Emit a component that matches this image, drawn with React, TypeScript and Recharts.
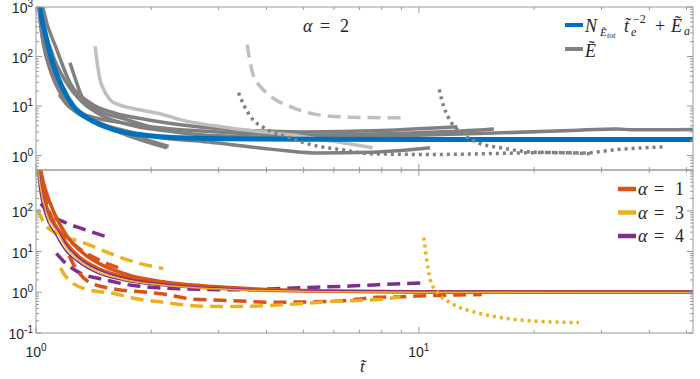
import React from 'react';
import { LineChart, Line, XAxis, YAxis, Legend } from 'recharts';

type P = [number, number];

const AX = '#9a9a9a';
const TXT = '#262626';
const SANS = "'Liberation Sans', Arial, Helvetica, sans-serif";
const SERIF = "'Liberation Serif', 'Times New Roman', serif";

const BLUE = '#0072BD';
const GRAY = '#808080';
const LGRAY = '#bfbfbf';
const ORANGE = '#D95319';
const YELLOW = '#EDB120';
const PURPLE = '#7E2F8E';

const X_DOMAIN: [number, number] = [1, 52];
const TOP_Y_DOMAIN: [number, number] = [0.51, 1000];
const BOT_Y_DOMAIN: [number, number] = [0.1, 1000];

const xTicks = [1, 2, 3, 4, 5, 6, 7, 8, 9, 10, 20, 30, 40, 50];
const xMajor: Record<number, string> = { 1: '0', 10: '1' };

const yTicksTop = [0.6, 0.7, 0.8, 0.9, 1, 2, 3, 4, 5, 6, 7, 8, 9, 10, 20, 30, 40, 50, 60, 70, 80, 90, 100, 200, 300, 400, 500, 600, 700, 800, 900, 1000];
const yMajorTop: Record<number, string> = { 1: '0', 10: '1', 100: '2', 1000: '3' };

const yTicksBot = [0.1, 0.2, 0.3, 0.4, 0.5, 0.6, 0.7, 0.8, 0.9, 1, 2, 3, 4, 5, 6, 7, 8, 9, 10, 20, 30, 40, 50, 60, 70, 80, 90, 100, 200, 300, 400, 500, 600, 700, 800, 900, 1000];
const yMajorBot: Record<number, string> = { 0.1: '-1', 1: '0', 10: '1', 100: '2' };

// ---- top panel (alpha = 2) ----
const blueModel: P[] = [[1.018, 2000], [1.024, 1050], [1.056, 300], [1.099, 87], [1.168, 25], [1.252, 9.9], [1.385, 5.3], [1.594, 3.35], [1.95, 2.53], [2.38, 2.28], [3.22, 2.17], [5, 2.12], [10, 2.1], [52, 2.1]];
const graySolidA: P[] = [[1.01, 2000], [1.018, 1000], [1.045, 188], [1.088, 54.6], [1.156, 18.5], [1.252, 8.5], [1.44, 4.58], [1.76, 2.45], [2.2, 1.43]];
const graySolidB: P[] = [[1.012, 2000], [1.02, 900], [1.05, 190], [1.09, 62], [1.16, 21], [1.25, 10], [1.42, 5.2], [1.7, 2.9], [2.0, 1.95], [2.22, 1.52]];
const graySolidC: P[] = [[1.227, 75], [1.26, 40], [1.317, 15.8], [1.44, 8.5], [1.7, 5.5], [2.13, 3.25]];
const graySolidD: P[] = [[1.15, 17], [1.2, 11], [1.26, 8], [1.4, 6], [1.7, 4.5], [2.2, 3.5], [3.22, 2.9], [5, 2.6], [8, 2.75], [12, 3.05], [15.7, 3.45]];
const graySolidE: P[] = [[1.025, 2000], [1.045, 890], [1.133, 138], [1.227, 29.4], [1.385, 11.6], [1.594, 7.3], [1.95, 5.3], [2.38, 4.2], [3.22, 3.35], [5, 3.0], [8, 3.2], [12.6, 3.8]];
const graySolidF: P[] = [[1.02, 2000], [1.04, 600], [1.1, 120], [1.2, 30], [1.32, 12], [1.5, 6.2], [1.8, 4], [2.3, 3.0], [3, 2.5], [5, 2.3], [8, 2.45], [16.4, 2.87], [25, 3.2], [33, 3.45], [36, 3.3], [52, 3.35]];
const graySolidG: P[] = [[1.012, 2000], [1.03, 400], [1.07, 90], [1.15, 25], [1.25, 10], [1.4, 5.3], [1.7, 3.2], [2.2, 2.2], [2.69, 1.95], [3.22, 1.67], [4.5, 1.25], [5.43, 1.13], [7.6, 1.17], [10.7, 1.43]];
const lightSolid: P[] = [[1.427, 160], [1.44, 90], [1.47, 34], [1.5, 22], [1.56, 13.5], [1.65, 10.5], [1.76, 9.2], [2.15, 6.7], [2.38, 5.3], [3.22, 3.6], [4.9, 2.45], [7.57, 1.43]];
const lightDashed: P[] = [[3.56, 175], [3.62, 80], [3.7, 40], [3.85, 25], [4.1, 15.8], [4.7, 9.2], [5.43, 6.7], [6.63, 5.95], [9.25, 5.75]];
const grayDottedA: P[] = [[3.38, 18.5], [3.5, 10], [3.63, 6.2], [4.02, 3.35], [4.53, 2.38], [5.2, 1.67], [6.24, 1.32], [7.62, 1.08], [10.96, 1.05], [16, 1.1], [22, 1.15], [28.5, 1.08]];
const grayDottedB: P[] = [[11.3, 21.6], [11.6, 10], [11.9, 6.2], [12.9, 2.9], [14.3, 1.8], [16.4, 1.43], [20, 1.17], [27, 1.13], [33, 1.32], [43.8, 1.5]];

// ---- bottom panel (alpha = 1, 3, 4) ----
const orangeSolidA: P[] = [[1.01, 1500], [1.03, 500], [1.07, 110], [1.13, 40], [1.2, 16], [1.3, 7.2], [1.44, 4], [1.69, 2.4], [2.15, 1.62], [3.22, 1.22], [5, 1.07], [10, 1.02], [52, 1.0]];
const orangeSolidB: P[] = [[1.02, 1500], [1.045, 500], [1.09, 150], [1.156, 45], [1.227, 19], [1.33, 9], [1.5, 4.5], [1.76, 2.6], [2.15, 1.8], [3.22, 1.3], [5, 1.1], [10, 1.03], [52, 1.0]];
const yellowSolid: P[] = [[1.005, 2000], [1.024, 457], [1.067, 83], [1.133, 32], [1.2, 12.5], [1.304, 5.8], [1.44, 3.3], [1.69, 2.06], [2.15, 1.49], [3.22, 1.17], [5, 1.05], [10, 1.0], [52, 0.98]];
const purpleSolidA: P[] = [[1.003, 2000], [1.02, 400], [1.06, 75], [1.12, 28], [1.19, 11], [1.3, 5.2], [1.44, 3.0], [1.69, 1.95], [2.15, 1.45], [3.22, 1.18], [5, 1.08], [10, 1.05], [52, 1.05]];
const purpleSolidB: P[] = [[1.007, 2000], [1.028, 450], [1.07, 85], [1.14, 32], [1.21, 13], [1.32, 6], [1.46, 3.5], [1.72, 2.2], [2.2, 1.55], [3.3, 1.22], [5, 1.1], [10, 1.06], [52, 1.06]];
const purpleDashedUp: P[] = [[1.03, 150], [1.077, 91], [1.2, 50], [1.33, 35.5], [1.55, 22]];
const yellowDashedUp: P[] = [[1.01, 110], [1.05, 50], [1.13, 28], [1.33, 16.6], [1.55, 9.2], [1.8, 5.6], [2.15, 3.8]];
const orangeDashedUp: P[] = [[1.02, 900], [1.04, 400], [1.06, 183], [1.13, 42], [1.24, 16.6], [1.45, 6.4], [1.64, 4]];
const purpleDashedLow: P[] = [[1.13, 9], [1.18, 5.8], [1.3, 3], [1.5, 2.06], [1.8, 1.46], [2.5, 1.2], [3.5, 1.15], [4.7, 1.28], [6.6, 1.42], [8.96, 1.62], [10.5, 1.7]];
const orangeDashedLow: P[] = [[1.22, 8], [1.245, 5.4], [1.377, 1.77], [1.6, 1.2], [1.88, 1.03], [2.2, 0.88], [2.59, 0.67], [3.03, 0.64], [4.17, 0.57], [6.0, 0.6], [7.8, 0.75], [9.1, 0.78], [10.7, 0.83], [12.6, 0.86], [14.6, 0.88]];
const yellowDashedLow: P[] = [[1.16, 4], [1.18, 2.9], [1.344, 1.2], [1.6, 0.93], [1.83, 0.69], [2.15, 0.57], [2.49, 0.48], [2.92, 0.45], [3.42, 0.45], [4.53, 0.5], [6.0, 0.6], [7.8, 0.66], [8.96, 0.77]];
const yellowDotted: P[] = [[10.3, 22], [10.45, 7.7], [10.7, 2.06], [11.2, 0.97], [12.1, 0.55], [14.3, 0.31], [17.4, 0.22], [21.3, 0.19], [26.2, 0.18]];

const pts = (a: P[]) => a.map(([x, y]) => ({ x, y }));

type S = { id: string; d: P[]; c: string; w: number; dash?: string };

const DASH = '13 7';
const DOT = '3 4';

const topSeries: S[] = [
  { id: 'gA', d: graySolidA, c: GRAY, w: 3.5 },
  { id: 'gB', d: graySolidB, c: GRAY, w: 3.5 },
  { id: 'gC', d: graySolidC, c: GRAY, w: 3.5 },
  { id: 'gD', d: graySolidD, c: GRAY, w: 3.5 },
  { id: 'gE', d: graySolidE, c: GRAY, w: 3.5 },
  { id: 'gF', d: graySolidF, c: GRAY, w: 3.5 },
  { id: 'gG', d: graySolidG, c: GRAY, w: 3.5 },
  { id: 'ls', d: lightSolid, c: LGRAY, w: 3.5 },
  { id: 'ld', d: lightDashed, c: LGRAY, w: 3.5, dash: DASH },
  { id: 'blue', d: blueModel, c: BLUE, w: 5 },
  { id: 'dA', d: grayDottedA, c: GRAY, w: 3.5, dash: DOT },
  { id: 'dB', d: grayDottedB, c: GRAY, w: 3.5, dash: DOT },
];

const botSeries: S[] = [
  { id: 'pdu', d: purpleDashedUp, c: PURPLE, w: 3.5, dash: DASH },
  { id: 'ydu', d: yellowDashedUp, c: YELLOW, w: 3.5, dash: DASH },
  { id: 'odu', d: orangeDashedUp, c: ORANGE, w: 3.5, dash: DASH },
  { id: 'pdl', d: purpleDashedLow, c: PURPLE, w: 3.5, dash: DASH },
  { id: 'odl', d: orangeDashedLow, c: ORANGE, w: 3.5, dash: DASH },
  { id: 'ydl', d: yellowDashedLow, c: YELLOW, w: 3.5, dash: DASH },
  { id: 'osA', d: orangeSolidA, c: ORANGE, w: 3.5 },
  { id: 'osB', d: orangeSolidB, c: ORANGE, w: 3.5 },
  { id: 'psA', d: purpleSolidA, c: PURPLE, w: 1.5 },
  { id: 'psB', d: purpleSolidB, c: PURPLE, w: 1.5 },
  { id: 'ys', d: yellowSolid, c: YELLOW, w: 1.5 },
  { id: 'ydot', d: yellowDotted, c: YELLOW, w: 3.5, dash: DOT },
];

const supLabel = (exp: string, x: number, y: number, anchor: 'end' | 'middle') => (
  <text x={x} y={y} textAnchor={anchor} fontSize={14} fill={TXT} fontFamily={SANS}>
    10<tspan dy={-6} fontSize={10}>{exp}</tspan>
  </text>
);

const XTick = (side: 'bottom' | 'top', labels: boolean) => (p: any) => {
  const { x, y, payload } = p;
  const v = payload.value;
  const major = xMajor[v] !== undefined;
  const len = major ? 6 : 3;
  const dir = side === 'bottom' ? -1 : 1;
  return (
    <g>
      <line x1={x} y1={y} x2={x} y2={y + dir * len} stroke={AX} strokeWidth={1} />
      {labels && major ? supLabel(xMajor[v], x, y + 24, 'middle') : null}
    </g>
  );
};

const MAJ = [0.1, 1, 10, 100, 1000];

const YTick = (side: 'left' | 'right', majors: Record<number, string>, labels: boolean) => (p: any) => {
  const { x, y, payload } = p;
  const v = payload.value;
  const major = MAJ.includes(v);
  const len = major ? 6 : 3;
  const dir = side === 'left' ? 1 : -1;
  return (
    <g>
      <line x1={x} y1={y} x2={x + dir * len} y2={y} stroke={AX} strokeWidth={1} />
      {labels && majors[v] !== undefined ? supLabel(majors[v], x - 3, y + 6, 'end') : null}
    </g>
  );
};

const TopLegend = () => (
  <svg width={140} height={55} style={{ overflow: 'visible' }}>
    <line x1={5} y1={15} x2={23} y2={15} stroke={BLUE} strokeWidth={4} />
    <text x={25} y={22} fontSize={18} fontStyle="italic" fontFamily={SERIF} fill={TXT}>N</text>
    <text x={40} y={26} fontSize={11} fontStyle="italic" fontFamily={SERIF} fill={TXT}>Ẽ</text>
    <text x={47} y={28} fontSize={8} fontStyle="italic" fontFamily={SERIF} fill={TXT}>tot</text>
    <text x={64} y={22} fontSize={18} fontStyle="italic" fontFamily={SERIF} fill={TXT}>{'t\u0303'}</text>
    <text x={71} y={26} fontSize={12} fontStyle="italic" fontFamily={SERIF} fill={TXT}>e</text>
    <text x={73} y={13} fontSize={12} fontFamily={SERIF} fill={TXT}>−2</text>
    <text x={95} y={22} fontSize={18} fontFamily={SERIF} fill={TXT}>+</text>
    <text x={111} y={22} fontSize={18} fontStyle="italic" fontFamily={SERIF} fill={TXT}>Ẽ</text>
    <text x={124} y={25} fontSize={12} fontStyle="italic" fontFamily={SERIF} fill={TXT}>a</text>
    <line x1={5} y1={39} x2={23} y2={39} stroke={GRAY} strokeWidth={4} />
    <text x={25} y={47} fontSize={18} fontStyle="italic" fontFamily={SERIF} fill={TXT}>Ẽ</text>
  </svg>
);

const alphaRows: { c: string; v: string }[] = [
  { c: ORANGE, v: '1' },
  { c: YELLOW, v: '3' },
  { c: PURPLE, v: '4' },
];

const BotLegend = () => (
  <svg width={85} height={75} style={{ overflow: 'visible' }}>
    {alphaRows.map((r, i) => {
      const ly = 16 + i * 23.5;
      return (
        <g key={r.v}>
          <line x1={3} y1={ly} x2={21} y2={ly} stroke={r.c} strokeWidth={4.5} />
          <text x={23} y={ly + 6} fontSize={18} fontStyle="italic" fontFamily={SERIF} fill={TXT}>α</text>
          <text x={39} y={ly + 6} fontSize={18} fontFamily={SERIF} fill={TXT}>=</text>
          <text x={60} y={ly + 6} fontSize={18} fontFamily={SERIF} fill={TXT}>{r.v}</text>
        </g>
      );
    })}
  </svg>
);

const renderLines = (list: S[]) =>
  list.map((s) => (
    <Line
      key={s.id}
      xAxisId="b"
      yAxisId="l"
      data={pts(s.d)}
      dataKey="y"
      type="monotone"
      stroke={s.c}
      strokeWidth={s.w}
      strokeDasharray={s.dash}
      dot={false}
      activeDot={false}
      isAnimationActive={false}
      legendType="none"
    />
  ));

const axes = (
  yDomain: [number, number],
  yTicks: number[],
  majors: Record<number, string>,
  xLabels: boolean,
  topH: number,
  botH: number
) => [
  <XAxis key="xb" xAxisId="b" type="number" dataKey="x" scale="log" domain={X_DOMAIN} allowDataOverflow ticks={xTicks} interval={0}
    orientation="bottom" height={botH} tickSize={0} tickMargin={0} tickLine={false} axisLine={{ stroke: AX }} tick={XTick('bottom', xLabels)} />,
  <XAxis key="xt" xAxisId="t" type="number" dataKey="x" scale="log" domain={X_DOMAIN} allowDataOverflow ticks={xTicks} interval={0}
    orientation="top" height={topH} tickSize={0} tickMargin={0} tickLine={false} axisLine={{ stroke: AX }} tick={XTick('top', false)} />,
  <YAxis key="yl" yAxisId="l" type="number" scale="log" domain={yDomain} allowDataOverflow ticks={yTicks} interval={0}
    orientation="left" width={36} tickSize={0} tickMargin={0} tickLine={false} axisLine={{ stroke: AX }} tick={YTick('left', majors, true)} />,
  <YAxis key="yr" yAxisId="r" type="number" scale="log" domain={yDomain} allowDataOverflow ticks={yTicks} interval={0}
    orientation="right" width={7} tickSize={0} tickMargin={0} tickLine={false} axisLine={{ stroke: AX }} tick={YTick('right', majors, false)} />,
];

export default function App() {
  return (
    <div style={{ position: 'relative', width: 700, height: 379, background: '#fff', overflow: 'hidden' }}>
      <style>{'body{margin:0}'}</style>
      <div style={{ position: 'absolute', left: 0, top: 0 }}>
        <LineChart width={700} height={172} margin={{ top: 0, right: 0, bottom: 0, left: 0 }}>
          {axes(TOP_Y_DOMAIN, yTicksTop, yMajorTop, false, 7, 2)}
          {renderLines(topSeries)}
          <Legend layout="vertical" align="center" verticalAlign="middle" content={() => <TopLegend />}
            wrapperStyle={{ position: 'absolute', left: 560, top: 10, width: 140, height: 55 }} />
        </LineChart>
      </div>
      <div style={{ position: 'absolute', left: 0, top: 165 }}>
        <LineChart width={700} height={214} margin={{ top: 0, right: 0, bottom: 0, left: 0 }}>
          {axes(BOT_Y_DOMAIN, yTicksBot, yMajorBot, true, 5, 46)}
          {renderLines(botSeries)}
          <Legend layout="vertical" align="center" verticalAlign="middle" content={() => <BotLegend />}
            wrapperStyle={{ position: 'absolute', left: 615, top: 8, width: 85, height: 75 }} />
        </LineChart>
      </div>
      <svg width={700} height={379} style={{ position: 'absolute', left: 0, top: 0, pointerEvents: 'none' }}>
        <text x={303} y={32} fontSize={18} fontStyle="italic" fontFamily={SERIF} fill={TXT}>α</text>
        <text x={320} y={32} fontSize={18} fontFamily={SERIF} fill={TXT}>=</text>
        <text x={340} y={32} fontSize={18} fontFamily={SERIF} fill={TXT}>2</text>
        <text x={360} y={372} fontSize={17} fontStyle="italic" fontFamily={SERIF} fill={TXT}>{'t\u0303'}</text>
      </svg>
    </div>
  );
}
